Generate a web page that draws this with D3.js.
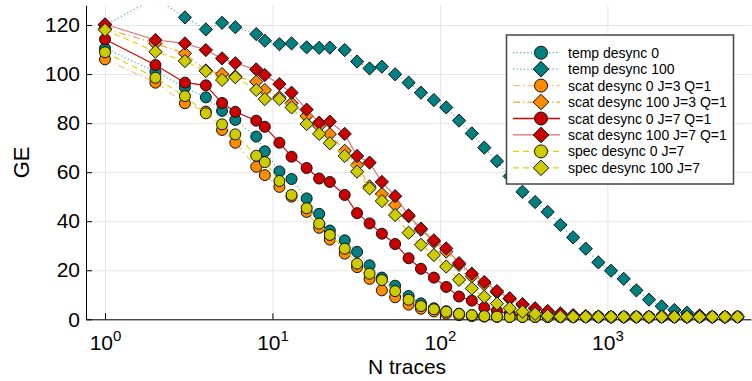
<!DOCTYPE html>
<html><head><meta charset="utf-8">
<script src="https://cdn.jsdelivr.net/npm/d3@7"></script>
<style>
body{margin:0;background:#fff}
svg{display:block}
text{font-family:"Liberation Sans",Arial,Helvetica,sans-serif;fill:#000}
</style>
</head><body>
<svg id="chart" width="752" height="381"></svg>
<script>
// ---------------- data ----------------
const nTraces = [1,2,3,4,5,6,8,9,11,13,16,19,22,27,32,38,45,54,65,77,92,109,130,155,184,219,261,311,370,440,524,624,742,883,1051,1251,1489,1772,2108,2509,2986,3553,4229,5032,5988];

const tempDesync0 = [110.5,101,94.6,90.5,85,81.3,74.5,68.5,60.3,57.2,49.3,43,36.2,32.2,27.5,22,17,13.7,9.5,6.5,4.5,3.3,2.3,1.7,1.3,1.1,1,1,1,1,1,1,1,1,1,1,1,1,1,1,1,1,1,1,1];
const tempDesync100 = [120,131,123.1,118.2,120.9,119.1,116.3,113.6,112.2,112.5,110.9,110.7,110.8,109.8,105.1,102.3,103,99.9,96.5,92.4,89.4,86.4,81,75.8,70,64.5,58.3,52,47.8,43.8,38.5,33.4,28.8,23.2,19.8,16.5,11.8,8,5.3,3.8,2.7,1.6,1.1,1,1];
const scatDesync0J3 = [106,96.5,88.1,84.7,77.2,72,62.2,58.8,54,50,43.8,37.3,32.5,26.8,21.3,16.5,11.8,9,6,4.3,3.2,2.3,1.7,1.3,1.1,1,1,1,1,1,1,1,1,1,1,1,1,1,1,1,1,1,1,1,1];
const scatDesync100J3 = [118.5,112.5,108.4,101.5,100,99,96.9,93.5,90.5,88.1,82.9,78.8,75.5,68.7,62.9,54.2,51.1,46.6,42,36.5,31.5,27.6,22.2,17.5,14.3,11,8.3,6,4.3,3,2.1,1.5,1.2,1.05,1,1,1,1,1,1,1,1,1,1,1];
const scatDesync0J7 = [114.2,103.7,96.5,95.4,88.2,84.6,81,78.5,72,66.3,61.7,57.4,56,50.7,43.3,39.1,34.9,30.7,24.9,20.6,17,13.2,9.3,7.6,4.8,3.4,2.3,1.6,1.3,1.1,1,1,1,1,1,1,1,1,1,1,1,1,1,1,1];
const scatDesync100J7 = [120.3,113.9,112.5,109.8,106.4,104.4,101.9,99.6,95.9,92.4,85.5,80.2,80.6,75.6,66.6,63.9,56,50.2,42.4,37,32.2,28.9,22.9,18.6,15.2,11.5,8.6,6.2,4.5,3.4,2.4,1.7,1.3,1.1,1,1,1,1,1,1,1,1,1,1,1];
const specDesync0J7 = [108.9,98.5,91,84,79.5,75.4,66.7,64.1,56.4,50.7,45.3,39,34.4,28.8,22.7,18.6,16,11.5,8,5.4,4.1,3.1,2.2,1.7,1.3,1.1,1,1,1,1,1,1,1,1,1,1,1,1,1,1,1,1,1,1,1];
const specDesync100J7 = [118,109.1,105.3,101.2,97.6,98.7,93.5,89.8,89.8,86.4,79.6,75.6,71.8,66.6,60.2,53.4,48.2,42.5,35.3,30.4,26.2,21.5,16.1,12.6,9.2,6.4,4.5,3.1,2.2,1.4,1.1,1,1,1,1,1,1,1,1,1,1,1,1,1,1];

const seriesLabels = ["temp desync 0","temp desync 100","scat desync 0 J=3 Q=1","scat desync 100 J=3 Q=1","scat desync 0 J=7 Q=1","scat desync 100 J=7 Q=1","spec desync 0 J=7","spec desync 100 J=7"];
const seriesValues = [tempDesync0,tempDesync100,scatDesync0J3,scatDesync100J3,scatDesync0J7,scatDesync100J7,specDesync0J7,specDesync100J7];

const yTicks = [0,20,40,60,80,100,120];
const xTicks = [1,10,100,1000];
const xTickExponents = ["0","1","2","3"];

// ---------------- styles ----------------
const markerFill = ["#008080","#008080","#ff8c00","#ff8c00","#cc0000","#cc0000","#cccc00","#cccc00"];
const lineColor  = ["#4aa8a8","#4aa8a8","#ffbf73","#ff9a2e","#d40000","#e06b6b","#d6d600","#d6d600"];
const lineDash   = ["1.2,2.4","1.2,2.4","7,3,1.5,3","7,3,1.5,3",null,null,"6,4","6,4"];
const markerShape = ["circle","diamond","circle","diamond","circle","diamond","circle","diamond"];

const svg = d3.select("#chart");
const plot = {left:86,right:751,top:5.4,bottom:319.3};
const x = d3.scaleLog().domain([0.77,7200]).range([plot.left,plot.right]);
const y = d3.scaleLinear().domain([0,128]).range([plot.bottom,plot.top]);

// grid
const gx = svg.append("g").attr("transform",`translate(0,${plot.bottom})`)
  .call(d3.axisBottom(x).tickValues(xTicks).tickSize(-(plot.bottom-plot.top)).tickFormat(""));
gx.select(".domain").remove();
gx.selectAll("line").attr("stroke","#e6e6e6").attr("stroke-width",1);
const gy = svg.append("g").attr("transform",`translate(${plot.left},0)`)
  .call(d3.axisLeft(y).tickValues(yTicks).tickSize(-(plot.right-plot.left)).tickFormat(""));
gy.select(".domain").remove();
gy.selectAll("line").attr("stroke","#e6e6e6").attr("stroke-width",1);

// axes
const ay = svg.append("g").attr("transform",`translate(${plot.left},0)`)
  .call(d3.axisLeft(y).tickValues(yTicks).tickSizeInner(-6).tickSizeOuter(0).tickPadding(6));
ay.select(".domain").attr("stroke","#000");
ay.selectAll(".tick line").attr("stroke","#000");
ay.selectAll(".tick text").attr("font-size",21).attr("font-family","Liberation Sans, Arial, sans-serif");

const ax = svg.append("g").attr("transform",`translate(0,${plot.bottom})`)
  .call(d3.axisBottom(x).tickValues(xTicks).tickSizeInner(-6).tickSizeOuter(0).tickFormat(""));
ax.select(".domain").attr("stroke","#000");
ax.selectAll(".tick line").attr("stroke","#000");
ax.selectAll(".tick").each(function(d,i){
  const t = d3.select(this).append("text").attr("y",30.5).attr("text-anchor","middle")
    .attr("font-family","Liberation Sans, Arial, sans-serif").attr("font-size",21).attr("fill","#000");
  t.append("tspan").text("10");
  t.append("tspan").attr("dy",-9).attr("font-size",15).text(xTickExponents[i]);
});

// axis titles
svg.append("text").attr("x",407).attr("y",374).attr("text-anchor","middle")
  .attr("font-size",21).text("N traces");
svg.append("text").attr("transform",`translate(29,${(plot.top+plot.bottom)/2}) rotate(-90)`)
  .attr("text-anchor","middle").attr("font-size",22).text("GE");

// clip
svg.append("clipPath").attr("id","clip").append("rect")
  .attr("x",plot.left-10).attr("y",plot.top).attr("width",plot.right-plot.left+20).attr("height",plot.bottom-plot.top+20);

const dataG = svg.append("g").attr("clip-path","url(#clip)");
const lineGen = d3.line().x(d=>x(d[0])).y(d=>y(d[1]));

function drawMarker(g, shape, cx, cy, r, fill){
  if(shape==="circle"){
    g.append("circle").attr("cx",cx).attr("cy",cy).attr("r",r)
      .attr("fill",fill).attr("stroke","#111").attr("stroke-width",1);
  } else {
    const s = r*1.2;
    g.append("path").attr("d",`M${cx},${cy-s}L${cx+s},${cy}L${cx},${cy+s}L${cx-s},${cy}Z`)
      .attr("fill",fill).attr("stroke","#111").attr("stroke-width",1);
  }
}

seriesValues.forEach((vals,si)=>{
  const pts = nTraces.map((n,i)=>[n,vals[i]]);
  dataG.append("path").attr("d",lineGen(pts)).attr("fill","none")
    .attr("stroke",lineColor[si]).attr("stroke-width",1.1)
    .attr("stroke-dasharray",lineDash[si]);
  const mg = dataG.append("g");
  pts.forEach(p=>drawMarker(mg, markerShape[si], x(p[0]), y(p[1]), 5.5, markerFill[si]));
});

// legend
const lg = svg.append("g");
lg.append("rect").attr("x",506.5).attr("y",35).attr("width",227).attr("height",149)
  .attr("fill","#fff").attr("stroke","#444").attr("stroke-width",1.5);
seriesLabels.forEach((lab,i)=>{
  const ry = 52.7 + i*16.45;
  lg.append("line").attr("x1",513).attr("x2",560).attr("y1",ry).attr("y2",ry)
    .attr("stroke",lineColor[i]).attr("stroke-width",1.3).attr("stroke-dasharray",lineDash[i]);
  drawMarker(lg, markerShape[i], 541, ry, 6.5, markerFill[i]);
  lg.append("text").attr("x",568).attr("y",ry+5).attr("font-size",14).text(lab);
});
</script>
</body></html>
